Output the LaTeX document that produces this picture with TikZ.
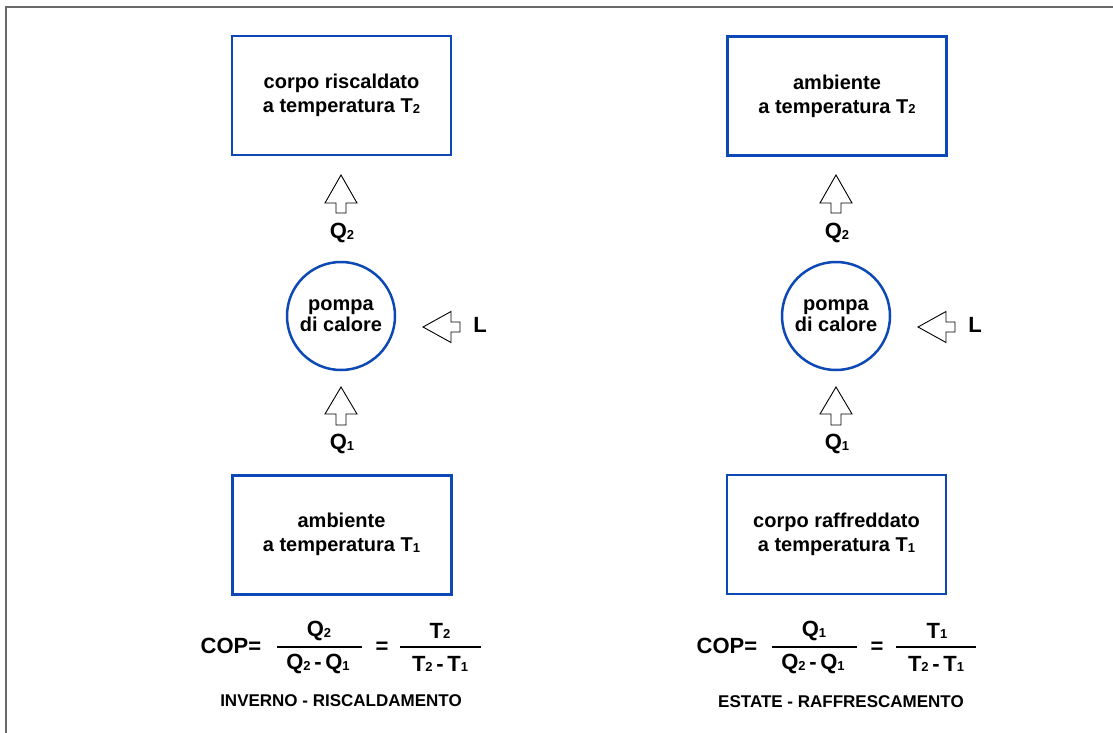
\documentclass[tikz,border=0pt]{standalone}
\usepackage{fontspec}
\setmainfont{Liberation Sans}
\definecolor{hpblue}{RGB}{12,72,182}
\definecolor{framegray}{RGB}{105,105,105}
\newcommand\lsub[1]{\raisebox{-0.8pt}{\fontsize{13}{13}\selectfont #1}}
\begin{document}
\begin{tikzpicture}[x=1pt,y=-1pt,
  box/.style={draw=hpblue,line width=2.5pt,minimum width=219pt,minimum height=119pt,
    align=center,font=\bfseries\fontsize{20}{24}\selectfont,inner sep=0pt},
  pump/.style={circle,draw=hpblue,line width=2.5pt,minimum size=108pt,inner sep=0pt,
    align=center,font=\bfseries\fontsize{20}{22}\selectfont},
  blockarrow/.style={draw=black,line width=0.9pt,fill=white,line join=miter},
  lbl/.style={font=\bfseries\fontsize{22}{24}\selectfont,inner sep=0pt},
  frac/.style={font=\bfseries\fontsize{22}{24}\selectfont,inner sep=0pt},
  captxt/.style={font=\bfseries\fontsize{17}{19}\selectfont,inner sep=0pt},
  fracline/.style={line width=1.6pt}]
\useasboundingbox (0,0) rectangle (1113,733);
\fill[white] (0,0) rectangle (1113,733);
% frame
\draw[framegray,line width=2pt] (5.5,733) -- (5.5,7.5) -- (1113,7.5);

% ---------------- left: inverno ----------------
\node[box] (lt) at (341.5,95.5) {corpo riscaldato\\ a temperatura T\lsub{2}};
\node[box,line width=3pt] (lb) at (341.5,534.5) {ambiente\\ a temperatura T\lsub{1}};
\node[pump] (lp) at (341,316) {pompa\\[-1pt]di calore};
\draw[blockarrow] (341,175) -- ++(16,28) -- ++(-11,0) -- ++(0,10) -- ++(-10,0) -- ++(0,-10) -- ++(-11,0) -- cycle;
\draw[blockarrow] (341,387) -- ++(16,27) -- ++(-11,0) -- ++(0,11) -- ++(-10,0) -- ++(0,-11) -- ++(-11,0) -- cycle;
\draw[blockarrow] (423,327) -- ++(28,-15.5) -- ++(0,10.5) -- ++(9,0) -- ++(0,10) -- ++(-9,0) -- ++(0,10.5) -- cycle;
\node[lbl] (lq2) at (342,233) {Q\lsub{2}};
\node[lbl] (lq1) at (342,444) {Q\lsub{1}};
\node[lbl] (ll) at (480,325) {L};
\node[frac] (lcop) at (231,646) {COP=};
\coordinate (lf1a) at (277,647); \coordinate (lf1b) at (362,647);
\draw[fracline] (lf1a) -- (lf1b);
\node[frac] (ln1) at (319,631) {Q\lsub{2}};
\node[frac] (ld1) at (318,664) {Q\lsub{2}\,-\,Q\lsub{1}};
\node[frac] (leq) at (382,648) {=};
\coordinate (lf2a) at (400,647); \coordinate (lf2b) at (481,647);
\draw[fracline] (lf2a) -- (lf2b);
\node[frac] (ln2) at (440,631) {T\lsub{2}};
\node[frac] (ld2) at (440,664) {T\lsub{2}\,-\,T\lsub{1}};
\node[captxt] (lcap) at (341,701) {INVERNO - RISCALDAMENTO};

% ---------------- right: estate ----------------
\node[box] (rt) at (837,96) {ambiente\\ a temperatura T\lsub{2}};
\node[box] (rb) at (836.5,534.5) {corpo raffreddato\\ a temperatura T\lsub{1}};
\node[pump] (rp) at (836,316) {pompa\\[-1pt]di calore};
\draw[blockarrow] (836,175) -- ++(16,28) -- ++(-11,0) -- ++(0,10) -- ++(-10,0) -- ++(0,-10) -- ++(-11,0) -- cycle;
\draw[blockarrow] (836,387) -- ++(16,27) -- ++(-11,0) -- ++(0,11) -- ++(-10,0) -- ++(0,-11) -- ++(-11,0) -- cycle;
\draw[blockarrow] (918,327) -- ++(28,-15.5) -- ++(0,10.5) -- ++(9,0) -- ++(0,10) -- ++(-9,0) -- ++(0,10.5) -- cycle;
\node[lbl] (rq2) at (837,233) {Q\lsub{2}};
\node[lbl] (rq1) at (837,444) {Q\lsub{1}};
\node[lbl] (rl) at (975,325) {L};
\node[frac] (rcop) at (727,646) {COP=};
\coordinate (rf1a) at (772,647); \coordinate (rf1b) at (857,647);
\draw[fracline] (rf1a) -- (rf1b);
\node[frac] (rn1) at (814,631) {Q\lsub{1}};
\node[frac] (rd1) at (813,664) {Q\lsub{2}\,-\,Q\lsub{1}};
\node[frac] (req) at (877,648) {=};
\coordinate (rf2a) at (896,647); \coordinate (rf2b) at (976,647);
\draw[fracline] (rf2a) -- (rf2b);
\node[frac] (rn2) at (937,631) {T\lsub{1}};
\node[frac] (rd2) at (936,664) {T\lsub{2}\,-\,T\lsub{1}};
\node[captxt] (rcap) at (841,702) {ESTATE - RAFFRESCAMENTO};
\end{tikzpicture}
\end{document}
